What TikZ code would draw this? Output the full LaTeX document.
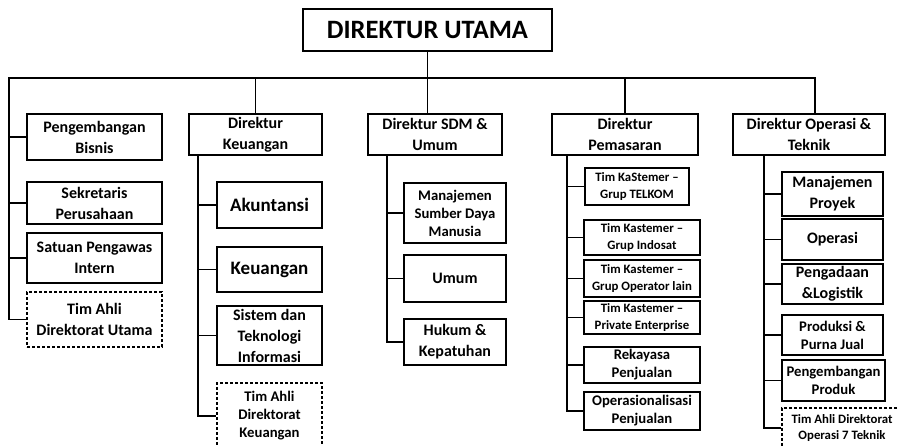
\documentclass[tikz,border=0pt]{standalone}
\usepackage{fontspec}
\setmainfont{Carlito}
\begin{document}
\begin{tikzpicture}[x=1pt,y=-1pt,
  box/.style={draw=black, line width=1.7pt, fill=white, inner sep=0pt, align=center, rectangle},
  dbox/.style={box, dashed, line width=1.3pt, dash pattern=on 3pt off 2pt},
  conn/.style={draw=black, line width=1.7pt},
  fA/.style={font=\fontsize{26.5}{30}\selectfont\bfseries},
  fB/.style={font=\fontsize{19}{23}\selectfont\bfseries},
  fC/.style={font=\fontsize{16}{21}\selectfont\bfseries},
  fD/.style={font=\fontsize{14.7}{18}\selectfont\bfseries},
  fE/.style={font=\fontsize{12.8}{16.5}\selectfont\bfseries}]
\useasboundingbox (0,0) rectangle (898,446);
\clip (0,0) rectangle (898,446);
\fill[white] (0,0) rectangle (898,446);

% top
\node[box,fA,minimum width=249pt,minimum height=42pt] (top) at (427.5,30) {DIREKTUR UTAMA};

% left column
\node[box,fC,minimum width=135pt,minimum height=46pt] (pb) at (94.5,137) {Pengembangan\\Bisnis};
\node[box,fC,minimum width=135pt,minimum height=42pt] (sp) at (94.5,203) {Sekretaris\\Perusahaan};
\node[box,fC,minimum width=135pt,minimum height=50pt] (spi) at (94.5,258) {Satuan Pengawas\\Intern};
\node[dbox,fC,minimum width=135pt,minimum height=55pt] (tau) at (94.5,319.5) {Tim Ahli\\Direktorat Utama};

% keuangan
\node[box,fC,minimum width=133pt,minimum height=41pt] (dk) at (255.5,134.5) {Direktur\\Keuangan};
\node[box,fB,minimum width=105pt,minimum height=46pt] (ak) at (269.5,205) {Akuntansi};
\node[box,fB,minimum width=105pt,minimum height=45pt] (ku) at (269.5,269.5) {Keuangan};
\node[box,fC,minimum width=105pt,minimum height=59pt] (sti) at (269.5,335.5) {Sistem dan\\Teknologi\\Informasi};
\node[dbox,fD,minimum width=105pt,minimum height=66pt] (tak) at (269.5,416) {Tim Ahli\\Direktorat\\Keuangan};

% SDM
\node[box,fC,minimum width=134pt,minimum height=41pt] (ds) at (435,134.5) {Direktur SDM \&\\Umum};
\node[box,fD,minimum width=102pt,minimum height=60pt] (msdm) at (455,213) {Manajemen\\Sumber Daya\\Manusia};
\node[box,fC,minimum width=102pt,minimum height=47pt] (um) at (455,278.5) {Umum};
\node[box,fC,minimum width=102pt,minimum height=46pt] (hk) at (455,342) {Hukum \&\\Kepatuhan};

% Pemasaran
\node[box,fC,minimum width=146pt,minimum height=41pt] (dp) at (625,134.5) {Direktur\\Pemasaran};
\node[box,fE,minimum width=104pt,minimum height=37pt] (tt) at (637,186.5) {Tim KaStemer --\\Grup TELKOM};
\node[box,fE,minimum width=116pt,minimum height=35pt] (ti) at (642,237.5) {Tim Kastemer --\\Grup Indosat};
\node[box,fE,minimum width=116pt,minimum height=37pt] (to) at (642,278.5) {Tim Kastemer --\\Grup Operator lain};
\node[box,fE,minimum width=116pt,minimum height=33pt] (tp) at (642,317.5) {Tim Kastemer --\\Private Enterprise};
\node[box,fD,minimum width=116pt,minimum height=36pt] (rp) at (642,365) {Rekayasa\\Penjualan};
\node[box,fD,minimum width=116pt,minimum height=38pt] (op) at (642,411) {Operasionalisasi\\Penjualan};

% Operasi
\node[box,fC,minimum width=152pt,minimum height=41pt] (do) at (809,134.5) {Direktur Operasi \&\\Teknik};
\node[box,fC,minimum width=101pt,minimum height=44pt] (mp) at (832.5,194) {Manajemen\\Proyek};
\node[box,fC,minimum width=101pt,minimum height=41pt] (oper) at (832.5,239.5) {Operasi};
\node[box,fC,minimum width=101pt,minimum height=40pt] (pl) at (832.5,284) {Pengadaan\\\&Logistik};
\node[box,fD,minimum width=101pt,minimum height=40pt] (pj) at (832.5,335) {Produksi \&\\Purna Jual};
\node[box,fD,minimum width=103pt,minimum height=41pt] (ppr) at (833.5,380.5) {Pengembangan\\Produk};
\node[dbox,fE,minimum width=120pt,minimum height=40pt] (tao) at (842,428) {Tim Ahli Direktorat\\Operasi 7 Teknik};

% bus
\coordinate (busL) at (9,78);
\coordinate (busR) at (815,78);
\coordinate (kx) at (198,0);
\coordinate (sx) at (387,0);
\coordinate (px) at (567,0);
\coordinate (ox) at (764,0);

\draw[conn] (tau.west) -| (busL) -- (busR) -- (busR |- do.north);
\draw[conn] (top.south) -- (top.south |- ds.north);
\draw[conn] (dk.north |- busL) -- (dk.north);
\draw[conn] (dp.north |- busL) -- (dp.north);
\foreach \n in {pb,sp,spi} \draw[conn] (busL) |- (\n.west);

\draw[conn] (dk.south -| kx) |- (tak.west);
\foreach \n in {ak,ku,sti} \draw[conn] (dk.south -| kx) |- (\n.west);

\draw[conn] (ds.south -| sx) |- (hk.west);
\foreach \n in {msdm,um} \draw[conn] (ds.south -| sx) |- (\n.west);

\draw[conn] (dp.south -| px) |- (op.west);
\foreach \n in {tt,ti,to,tp,rp} \draw[conn] (dp.south -| px) |- (\n.west);

\draw[conn] (do.south -| ox) |- (tao.west);
\foreach \n in {mp,oper,pl,pj,ppr} \draw[conn] (do.south -| ox) |- (\n.west);
\end{tikzpicture}
\end{document}
